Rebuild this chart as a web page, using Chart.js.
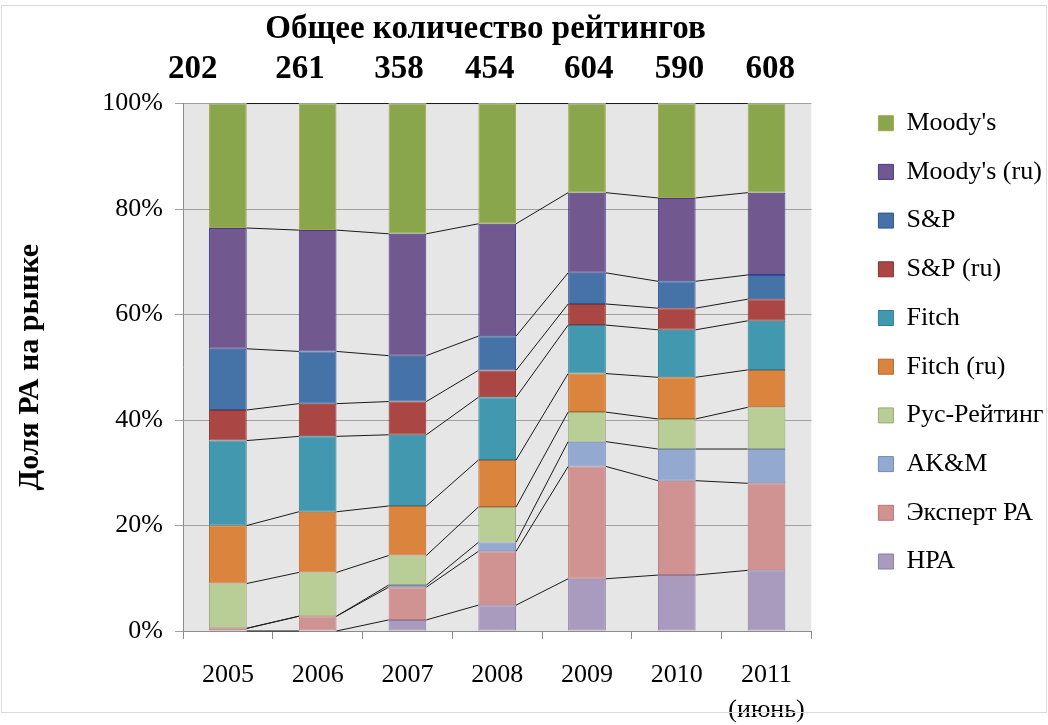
<!DOCTYPE html>
<html lang="ru">
<head>
<meta charset="utf-8">
<title>Доля РА на рынке</title>
<script src="https://cdn.jsdelivr.net/npm/chart.js@4.4.1/dist/chart.umd.min.js"></script>
<style>
  html, body { margin: 0; padding: 0; background: #ffffff; }
  canvas { display: block; }
</style>
</head>
<body>
<canvas id="c" width="1048" height="725"></canvas>
<script>
// ---- data (shares, % of total ratings) ----
const categories = ['2005', '2006', '2007', '2008', '2009', '2010', ['2011', '(июнь)']];
const totals = [202, 261, 358, 454, 604, 590, 608];
const yTicks = [0, 20, 40, 60, 80, 100];

const hpa      = [0,    0,    2.1,  4.9,  9.9,  10.6, 11.5]; // НРА
const expert   = [0.5,  2.8,  6.2,  10.2, 21.3, 17.9, 16.5]; // Эксперт РА
const akm      = [0,    0,    0.4,  1.7,  4.7,  6.0,  6.5];  // AK&M
const rus      = [8.5,  8.3,  5.6,  6.7,  5.6,  5.7,  7.9];  // Рус-Рейтинг
const fitchRu  = [11.0, 11.5, 9.4,  8.9,  7.3,  7.9,  7.1];  // Fitch (ru)
const fitch    = [16.1, 14.3, 13.5, 11.9, 9.2,  9.0,  9.3];  // Fitch
const spRu     = [5.8,  6.2,  6.3,  5.1,  4.0,  4.1,  4.1];  // S&P (ru)
const sp       = [11.6, 9.9,  8.7,  6.5,  5.9,  5.1,  4.6];  // S&P
const moodysRu = [22.9, 23.0, 23.1, 21.3, 15.2, 15.8, 15.6]; // Moody's (ru)
const moodys   = [23.6, 24.0, 24.7, 22.8, 16.9, 17.9, 16.9]; // Moody's

const seriesNames = ['НРА', 'Эксперт РА', 'AK&M', 'Рус-Рейтинг', 'Fitch (ru)', 'Fitch', 'S&P (ru)', 'S&P', "Moody's (ru)", "Moody's"];
const seriesData  = [hpa, expert, akm, rus, fitchRu, fitch, spRu, sp, moodysRu, moodys];
const fills   = ['#A99BBD', '#D19392', '#93A9CF', '#B9CD96', '#DB843D', '#4198AF', '#AA4643', '#4572A7', '#71588F', '#8AA64C'];
const borders = ['#8A7BAA', '#B57675', '#7188BA', '#97A97A', '#B4662A', '#2C8096', '#8C302E', '#2F5390', '#3F3A8E', '#A9A64A'];

const SERIF = "'Liberation Serif', 'Times New Roman', serif";

// ---- title text built from totals (spacing as in the original typed header) ----
const gapSpaces = [7, 6, 5, 6, 5, 5];
const totalsLine = totals.map((t, i) => String(t) + (i < gapSpaces.length ? ' '.repeat(gapSpaces[i]) : '')).join('') + ' '.repeat(11);
const titleLine = 'Общее количество рейтингов' + ' '.repeat(10);

// ---- plugins ----
const background = {
  id: 'background',
  beforeDraw(chart) {
    const { ctx, chartArea: a } = chart;
    ctx.save();
    ctx.fillStyle = '#ffffff';
    ctx.fillRect(0, 0, chart.width, chart.height);
    ctx.fillStyle = '#E6E6E6';
    ctx.fillRect(a.left, a.top, a.right - a.left, a.bottom - a.top);
    ctx.restore();
  },
  afterDraw(chart) {
    const ctx = chart.ctx;
    ctx.save();
    ctx.strokeStyle = '#D9D9D9';
    ctx.lineWidth = 1;
    ctx.strokeRect(1.5, 5.5, chart.width - 3, chart.height - 18);
    ctx.restore();
  }
};

const seriesLines = {
  id: 'seriesLines',
  afterDatasetsDraw(chart) {
    const ctx = chart.ctx;
    ctx.save();
    ctx.strokeStyle = '#1a1a1a';
    ctx.lineWidth = 1;
    chart.data.datasets.forEach((ds, i) => {
      const meta = chart.getDatasetMeta(i);
      for (let j = 0; j < meta.data.length - 1; j++) {
        const a = meta.data[j].getProps(['x', 'y', 'width'], true);
        const b = meta.data[j + 1].getProps(['x', 'y', 'width'], true);
        ctx.beginPath();
        ctx.moveTo(a.x + a.width / 2, a.y);
        ctx.lineTo(b.x - b.width / 2, b.y);
        ctx.stroke();
      }
    });
    ctx.restore();
  }
};

new Chart(document.getElementById('c'), {
  type: 'bar',
  data: {
    labels: categories,
    datasets: seriesNames.map((name, i) => ({
      label: name,
      data: seriesData[i],
      backgroundColor: fills[i],
      borderColor: borders[i],
      borderWidth: 1,
      borderSkipped: false,
      barPercentage: 0.42,
      categoryPercentage: 1.0,
      xAxisID: 'x',
      yAxisID: 'y'
    }))
  },
  options: {
    responsive: false,
    animation: false,
    events: [],
    layout: { padding: { left: 0, right: -5.5, top: 0, bottom: 0 } },
    scales: {
      x: {
        stacked: true,
        grid: { offset: true, drawOnChartArea: false, drawTicks: true, tickLength: 8, color: '#8C8C8C' },
        border: { display: true, color: '#8C8C8C' },
        ticks: { color: '#000', font: { family: SERIF, size: 26, lineHeight: 1.35 }, padding: 18.5, maxRotation: 0, autoSkip: false },
        afterFit(s) { s.height = 94; }
      },
      y: {
        stacked: true,
        min: 0,
        max: 100,
        afterBuildTicks(s) { s.ticks = yTicks.map(v => ({ value: v })); },
        grid: { color: '#A0A0A0', tickLength: 8, drawTicks: true },
        border: { display: true, color: '#8C8C8C' },
        ticks: { color: '#000', font: { family: SERIF, size: 26 }, padding: 12, callback: v => v + '%' },
        title: { display: true, text: 'Доля РА на рынке', color: '#000', font: { family: SERIF, size: 30, weight: 'bold', lineHeight: 1.2 }, padding: { top: 12, bottom: 0 } },
        afterFit(s) { s.width = 183; }
      },
      yR: {
        type: 'linear',
        position: 'right',
        display: false,
        afterFit(s) { s.width = 44.3; }
      }
    },
    plugins: {
      tooltip: { enabled: false },
      title: {
        display: true,
        fullSize: true,
        text: [titleLine, totalsLine],
        color: '#000',
        font: { family: SERIF, size: 33, weight: 'bold', lineHeight: 1.22 },
        padding: { top: 9, bottom: 14 }
      },
      legend: {
        display: true,
        position: 'right',
        align: 'start',
        reverse: true,
        fullSize: true,
        title: { display: true, text: '', font: { size: 10, lineHeight: 1.2 }, padding: { top: 75.5, bottom: 0 } },
        labels: {
          color: '#000',
          font: { family: SERIF, size: 26 },
          boxWidth: 15,
          boxHeight: 15,
          padding: 22.7
        }
      }
    }
  },
  plugins: [background, seriesLines]
});
</script>
</body>
</html>
